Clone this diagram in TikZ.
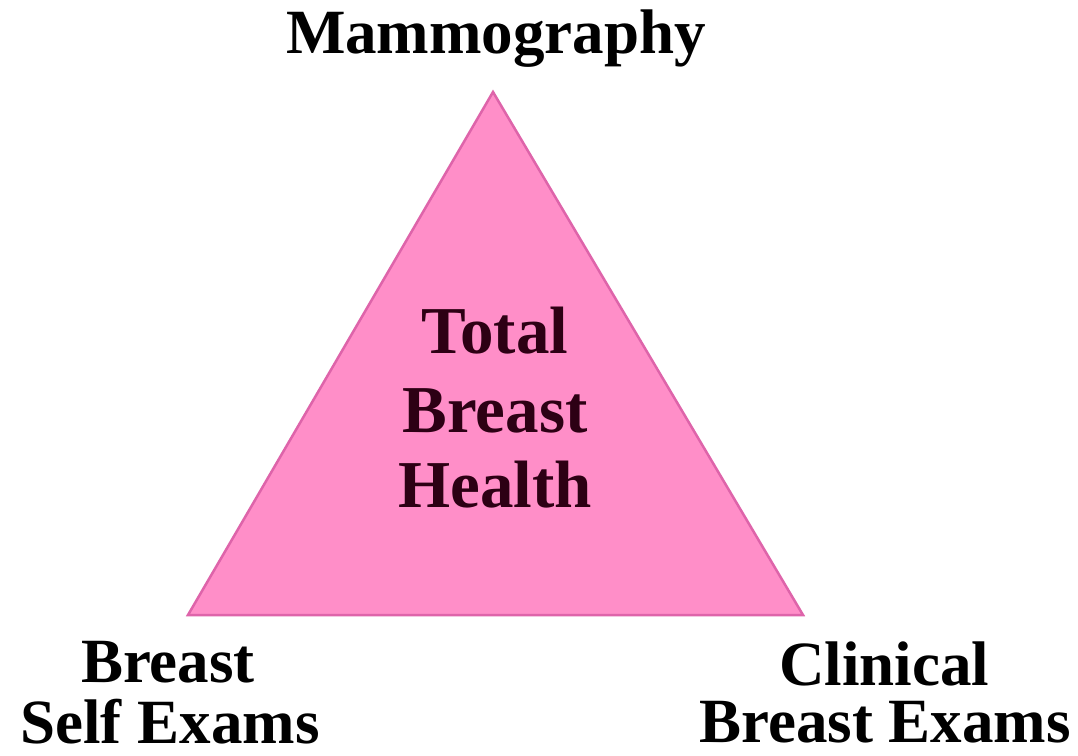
\documentclass[tikz,border=0pt]{standalone}
\usepackage{fontspec}
\setmainfont{Liberation Serif}
\usepackage{tikz}
\usepackage{xcolor}
\definecolor{trifill}{RGB}{255,142,200}
\definecolor{triedge}{RGB}{222,100,170}
\definecolor{midtext}{RGB}{45,0,20}

\tikzset{
  lbl/.style={inner sep=0pt,anchor=base,font=\fontsize{63}{70}\selectfont\bfseries},
  mid/.style={lbl,text=midtext,font=\fontsize{67}{76}\selectfont\bfseries}
}

\begin{document}
\begin{tikzpicture}[x=1pt,y=-1pt]
\useasboundingbox (0,0) rectangle (1078,755);
\fill[white] (0,0) rectangle (1078,755);
% the triangle
\coordinate (top) at (493,92);
\coordinate (bl) at (188,615);
\coordinate (br) at (803,615);
\filldraw[fill=trifill,draw=triedge,line width=2.5pt,line join=miter] (top) -- (bl) -- (br) -- cycle;
% labels
\node[lbl] (mammo) at (496,53) {Mammography};
\node[mid] (total) at (495,353) {Total};
\node[mid] (breast) at (495,432) {Breast};
\node[mid] (health) at (495,507) {Health};
\node[lbl] (bse1) at (168,682) {Breast};
\node[lbl] (bse2) at (170,743) {Self Exams};
\node[lbl] (cbe1) at (884,685) {Clinical};
\node[lbl] (cbe2) at (885,742) {Breast Exams};
\end{tikzpicture}
\end{document}
